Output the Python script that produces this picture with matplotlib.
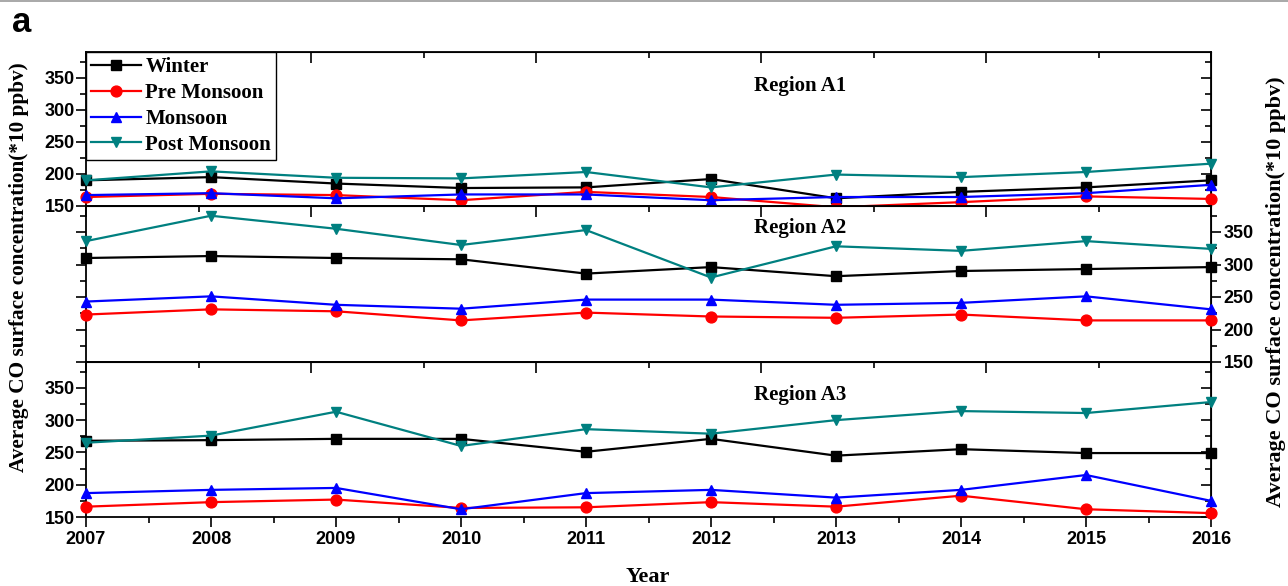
from matplotlib import pyplot as plt
from matplotlib.ticker import MultipleLocator
from matplotlib.lines import Line2D
import numpy as np

years = [2007, 2008, 2009, 2010, 2011, 2012, 2013, 2014, 2015, 2016]

# Region A1
A1_winter = [190, 195, 185, 178, 179, 192, 162, 172, 179, 190]
A1_pre = [164, 169, 167, 159, 172, 164, 148, 156, 165, 161]
A1_monsoon = [167, 170, 162, 168, 168, 159, 164, 164, 170, 183]
A1_post = [190, 204, 194, 193, 203, 179, 199, 195, 203, 216]

# Region A2
A2_winter = [310, 313, 310, 308, 286, 296, 282, 290, 293, 296]
A2_pre = [223, 231, 228, 214, 226, 220, 218, 223, 214, 214]
A2_monsoon = [243, 251, 238, 232, 246, 246, 238, 241, 251, 231]
A2_post = [336, 375, 355, 330, 353, 280, 328, 321, 336, 324]

# Region A3
A3_winter = [268, 269, 271, 271, 251, 271, 245, 255, 249, 249]
A3_pre = [166, 173, 177, 164, 165, 173, 166, 183, 162, 156]
A3_monsoon = [187, 192, 195, 162, 187, 192, 180, 192, 215, 175]
A3_post = [265, 276, 313, 260, 286, 279, 300, 314, 311, 328]

seasons = ['Winter', 'Pre Monsoon', 'Monsoon', 'Post Monsoon']
colors = ['black', '#ff0000', '#0000ff', '#008080']
markers = ['s', 'o', '^', 'v']

serif = 'Liberation Serif'
sans = 'Liberation Sans'

fig = plt.figure(figsize=(12.88, 5.86), dpi=100)
left, width = 86 / 1288, 1125 / 1288
ax1 = fig.add_axes([left, 1 - 206 / 586, width, 154 / 586])
ax2 = fig.add_axes([left, 1 - 362 / 586, width, 156 / 586])
ax3 = fig.add_axes([left, 1 - 517 / 586, width, 155 / 586])


def boldTicks(labels):
    for lab in labels:
        lab.set_fontfamily(sans)
        lab.set_fontweight('bold')


def drawPanel(ax, data, name, name_y, label_left, label_right, label_bottom):
    for values, season, c, m in zip(data, seasons, colors, markers):
        ax.plot(years, values, color=c, marker=m, markersize=7.8, linewidth=1.6,
                label=season, clip_on=False, zorder=3)
    ax.set_xlim(2007, 2016)
    ax.set_ylim(150, 390)

    ax.xaxis.set_major_locator(MultipleLocator(1))
    ax.xaxis.set_minor_locator(MultipleLocator(0.5))
    ax.set_yticks(np.arange(150, 351, 50))
    ax.yaxis.set_minor_locator(MultipleLocator(25))

    ax.tick_params(axis='x', which='major', direction='out', length=7, width=1.2,
                   labelbottom=label_bottom, pad=3, labelsize=13)
    ax.tick_params(axis='x', which='minor', direction='out', length=4, width=1.2)
    ax.tick_params(axis='y', which='both', direction='out', width=1.2, right=False,
                   labelleft=label_left, labelsize=13, pad=1)
    ax.tick_params(axis='y', which='major', length=7)
    ax.tick_params(axis='y', which='minor', length=4)
    boldTicks(ax.get_xticklabels() + ax.get_yticklabels())

    # right axis: labelled panel has outward ticks, others point inward
    right = ax.secondary_yaxis('right')
    right.set_yticks(np.arange(150, 351, 50))
    right.yaxis.set_minor_locator(MultipleLocator(25))
    right.tick_params(which='both', direction='out' if label_right else 'in',
                      width=1.2, labelright=label_right, labelsize=13, pad=2)
    right.tick_params(which='major', length=7)
    right.tick_params(which='minor', length=4)
    boldTicks(right.get_yticklabels())

    # top axis with its own tick spacing, ticks pointing inward
    top = ax.secondary_xaxis('top')
    top.set_xticks(np.arange(2007, 2016.01, 1.8))
    top.set_xticks(np.arange(2007.9, 2016, 1.8), minor=True)
    top.tick_params(which='major', direction='in', length=8, width=1.2, labeltop=False)
    top.tick_params(which='minor', direction='in', length=4, width=1.2)

    for s in ax.spines.values():
        s.set_linewidth(1.3)

    ax.text(0.635, name_y, name, transform=ax.transAxes, ha='center', va='center',
            fontsize=15, fontweight='bold', family=serif)


drawPanel(ax1, [A1_winter, A1_pre, A1_monsoon, A1_post], 'Region A1', 0.78, True, False, False)
drawPanel(ax2, [A2_winter, A2_pre, A2_monsoon, A2_post], 'Region A2', 0.86, False, True, False)
drawPanel(ax3, [A3_winter, A3_pre, A3_monsoon, A3_post], 'Region A3', 0.79, True, False, True)

leg = ax1.legend(loc='upper left', borderaxespad=0, fancybox=False, edgecolor='black',
                 framealpha=1, handlelength=2.4, handletextpad=0.2, labelspacing=0.28,
                 borderpad=0.25, prop={'family': serif, 'weight': 'bold', 'size': 15})
leg.get_frame().set_linewidth(1.0)

ylabel = 'Average CO surface concentration(*10 ppbv)'
fig.text(0.015, 0.5444, ylabel, rotation=90, ha='center', va='center',
         fontsize=15.3, fontweight='bold', family=serif)
fig.text(0.9905, 0.5017, ylabel, rotation=90, ha='center', va='center',
         fontsize=16, fontweight='bold', family=serif)
fig.text(0.5031, 0.0154, 'Year', ha='center', va='center',
         fontsize=16, fontweight='bold', family=serif)
fig.text(0.009, 0.962, 'a', ha='left', va='center',
         fontsize=25, fontweight='bold', family=sans)
fig.add_artist(Line2D([0, 1], [0.998, 0.998], color='#999999', linewidth=1.2))

plt.savefig('out.png', dpi=100)
